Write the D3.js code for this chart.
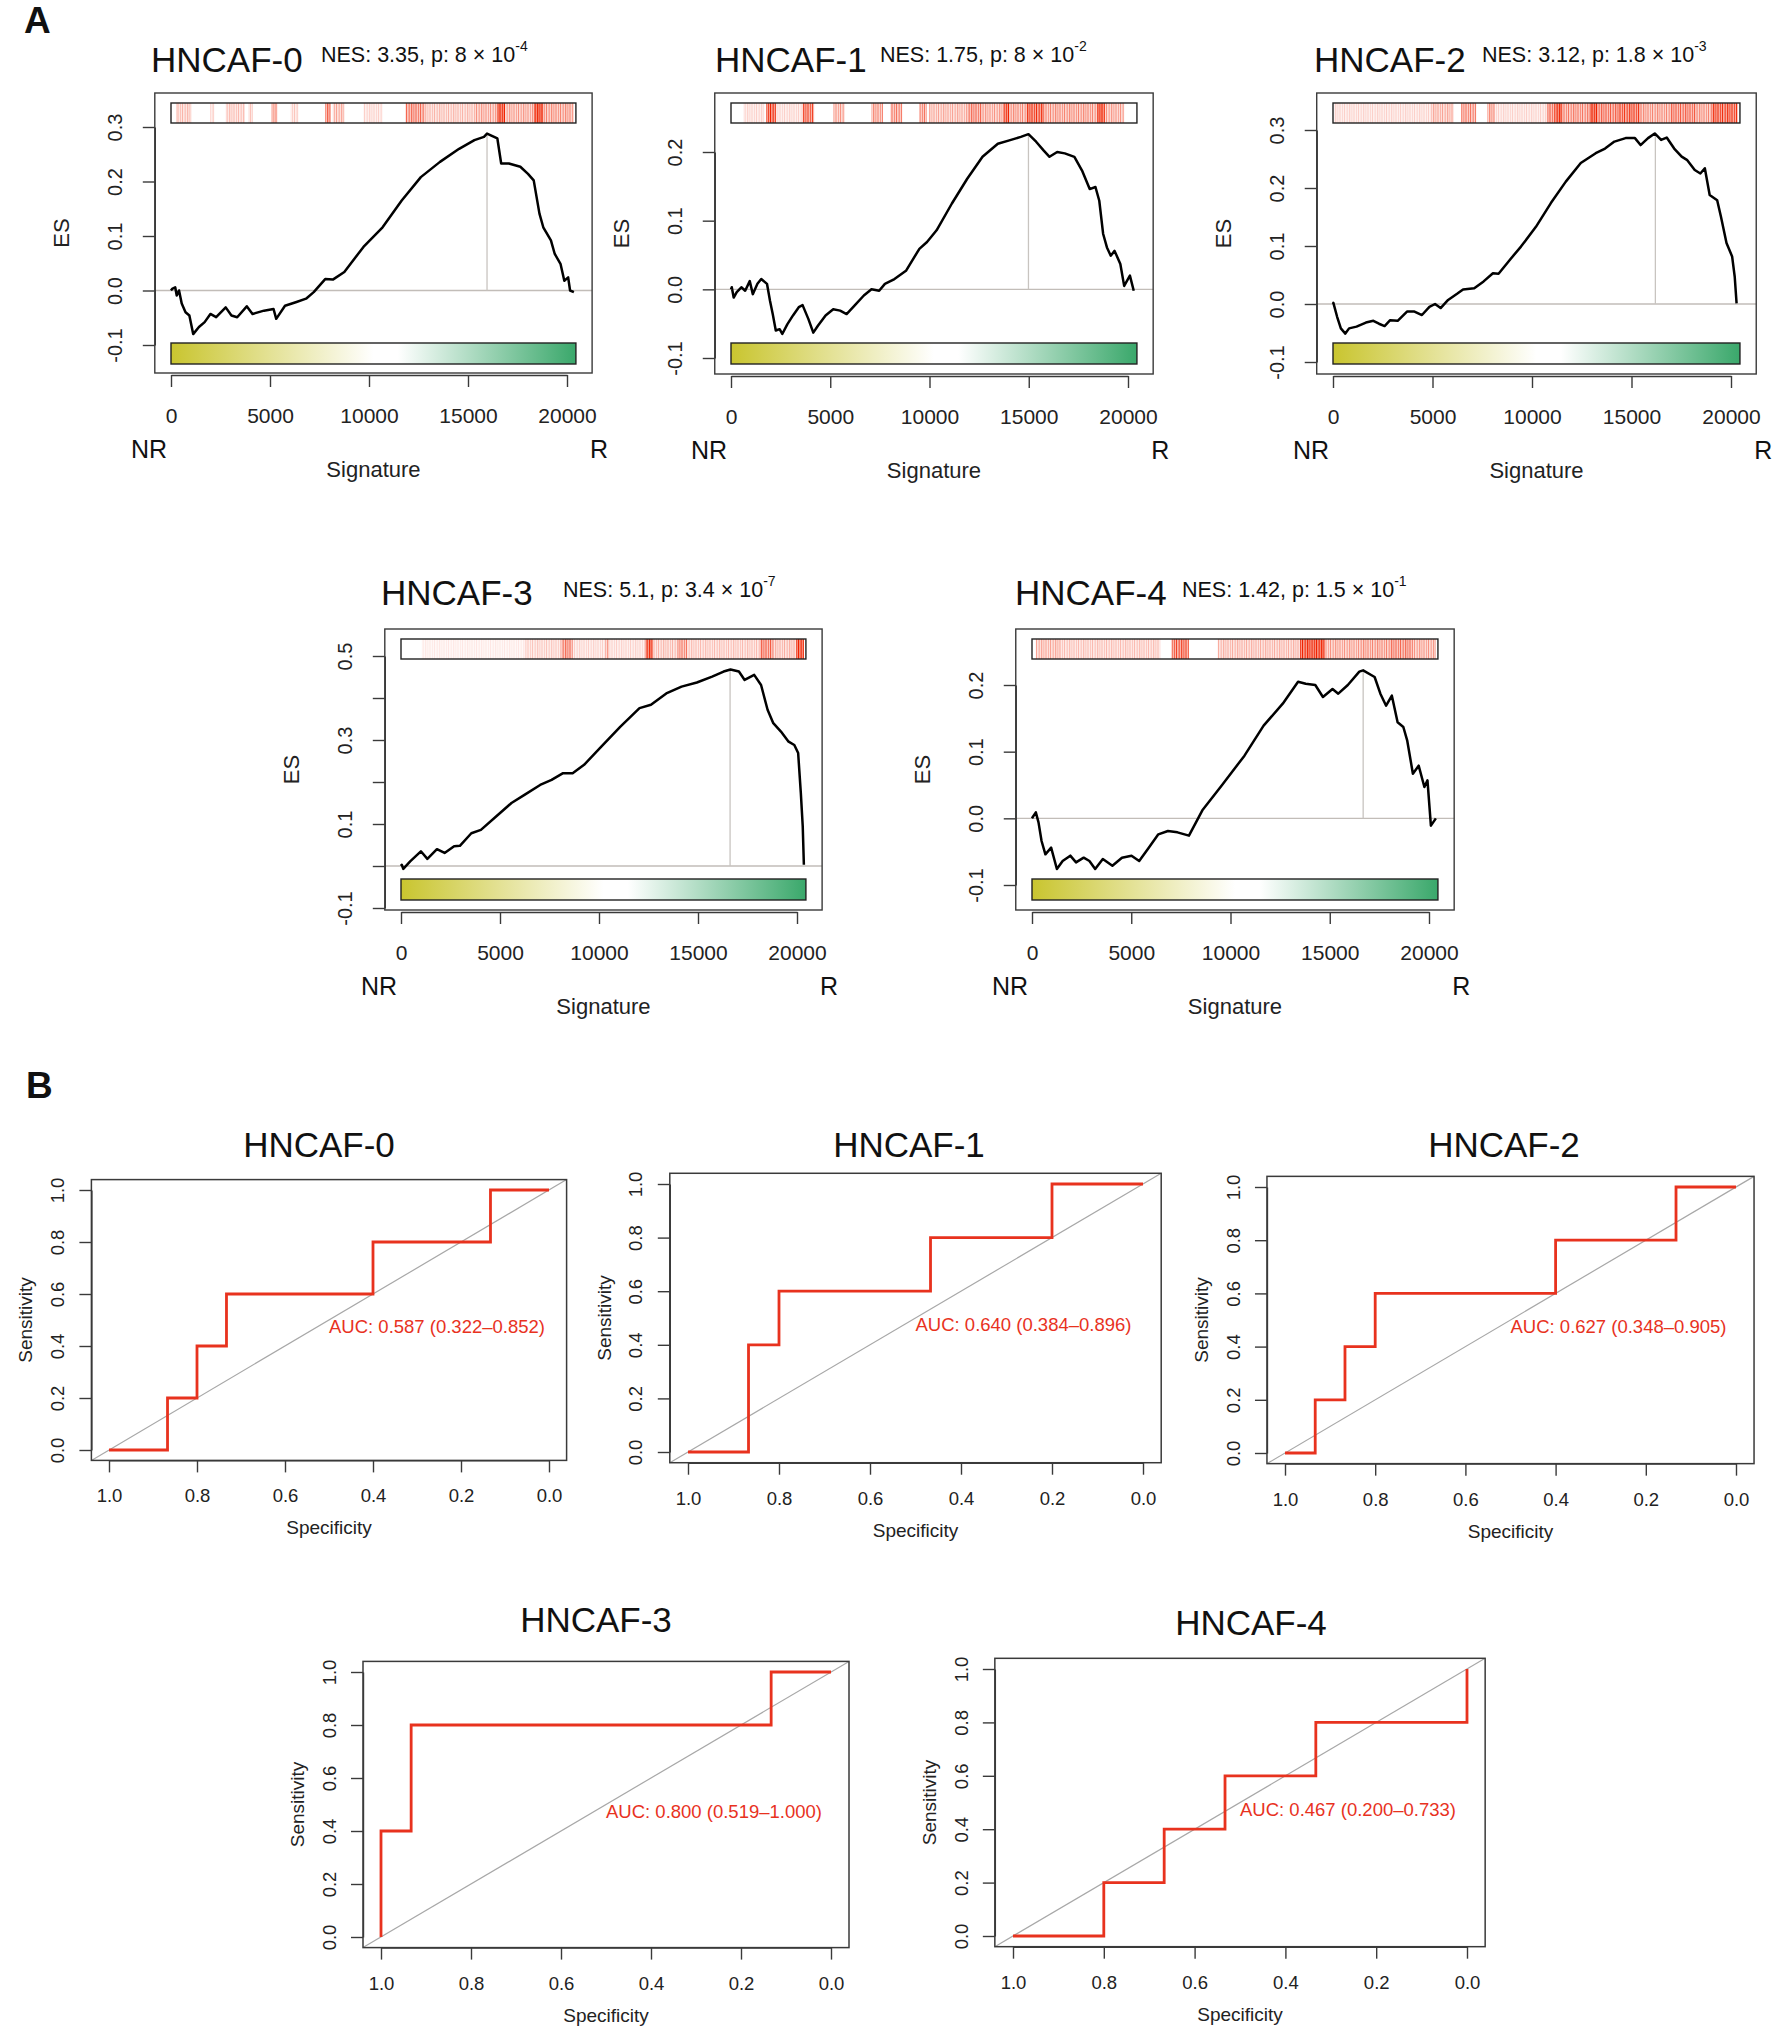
<!DOCTYPE html>
<html><head><meta charset="utf-8">
<script src="https://cdn.jsdelivr.net/npm/d3@7"></script>
<style>
body{margin:0;background:#fff}
svg{display:block}
text{font-family:"Liberation Sans",Arial,Helvetica,sans-serif}
</style>
</head><body>
<svg id="chart" width="1785" height="2040"></svg>
<script>
// ---------------- DATA ----------------
const panelNames = ["HNCAF-0","HNCAF-1","HNCAF-2","HNCAF-3","HNCAF-4"];
const nesValues = ["3.35","1.75","3.12","5.1","1.42"];
const pMantissa = ["8","8","1.8","3.4","1.5"];
const pExponent = ["-4","-2","-3","-7","-1"];
const nGenes = 20450;
const gseaXTicks = [0,5000,10000,15000,20000];
const gseaYTicks = [
  [-0.1,0,0.1,0.2,0.3],
  [-0.1,0,0.1,0.2],
  [-0.1,0,0.1,0.2,0.3],
  [-0.1,0,0.1,0.2,0.3,0.4,0.5],
  [-0.1,0,0.1,0.2]
];
const gseaYLabelled = [
  [-0.1,0,0.1,0.2,0.3],
  [-0.1,0,0.1,0.2],
  [-0.1,0,0.1,0.2,0.3],
  [-0.1,0.1,0.3,0.5],
  [-0.1,0,0.1,0.2]
];
// running enrichment score: [rank, ES]
const es0 = [[0,0],[58,0.003],[213,0.006],[290,-0.009],[406,0],[541,-0.024],[734,-0.04],[928,-0.046],[1121,-0.08],[1411,-0.067],[1700,-0.058],[1990,-0.043],[2280,-0.049],[2763,-0.031],[3053,-0.046],[3343,-0.049],[3826,-0.029],[4116,-0.043],[4696,-0.037],[5179,-0.034],[5314,-0.052],[5758,-0.028],[6338,-0.021],[6821,-0.015],[7208,-0.003],[7787,0.021],[8174,0.02],[8754,0.034],[9720,0.08],[10686,0.116],[11652,0.165],[12618,0.208],[13585,0.236],[14551,0.26],[15324,0.276],[15807,0.282],[15961,0.288],[16483,0.279],[16676,0.233],[17063,0.233],[17643,0.227],[18029,0.214],[18319,0.202],[18609,0.141],[18802,0.116],[19188,0.092],[19382,0.067],[19671,0.049],[19865,0.018],[20058,0.024],[20155,0],[20348,-0.003]];
const es1 = [[0,0],[39,0.003],[135,-0.012],[289,-0.004],[521,0.003],[714,-0.002],[945,0.012],[1099,-0.007],[1331,0.008],[1524,0.015],[1813,0.008],[1967,-0.017],[2102,-0.036],[2256,-0.06],[2449,-0.058],[2584,-0.065],[2835,-0.051],[3124,-0.038],[3414,-0.026],[3606,-0.023],[3896,-0.043],[4146,-0.063],[4378,-0.053],[4764,-0.038],[5149,-0.029],[5497,-0.031],[5824,-0.036],[6210,-0.024],[6692,-0.009],[7078,0],[7464,-0.002],[7753,0.008],[8235,0.015],[8814,0.027],[9489,0.059],[9875,0.069],[10357,0.086],[11128,0.125],[11900,0.161],[12671,0.193],[13442,0.212],[14021,0.217],[14600,0.222],[14985,0.226],[15371,0.215],[15757,0.202],[16046,0.193],[16432,0.2],[16817,0.198],[17299,0.193],[17685,0.173],[18071,0.146],[18360,0.149],[18553,0.129],[18746,0.081],[18939,0.061],[19131,0.049],[19324,0.056],[19614,0.037],[19807,0.005],[20096,0.02],[20289,-0.002]];
const es2 = [[0,0],[19,0.002],[207,-0.022],[394,-0.042],[620,-0.051],[808,-0.042],[1183,-0.039],[1653,-0.032],[2028,-0.029],[2310,-0.034],[2592,-0.038],[2873,-0.028],[3249,-0.029],[3718,-0.013],[4094,-0.013],[4469,-0.019],[4845,-0.005],[5127,0],[5408,-0.007],[5784,0.007],[6253,0.018],[6535,0.025],[7098,0.027],[7568,0.039],[8037,0.053],[8319,0.052],[8882,0.076],[9446,0.099],[10197,0.133],[10948,0.174],[11699,0.211],[12451,0.243],[13202,0.26],[13671,0.268],[14141,0.28],[14704,0.286],[15173,0.286],[15455,0.274],[15831,0.286],[16169,0.294],[16488,0.283],[16770,0.287],[17145,0.268],[17521,0.254],[17803,0.248],[18178,0.231],[18460,0.225],[18685,0.234],[18929,0.188],[19305,0.179],[19493,0.151],[19774,0.105],[20056,0.082],[20187,0.047],[20281,0.001]];
const es3 = [[0,0],[39,0.003],[116,-0.007],[463,0.011],[1004,0.035],[1332,0.017],[1815,0.04],[2201,0.031],[2683,0.047],[2973,0.048],[3552,0.078],[4035,0.086],[4903,0.122],[5579,0.15],[6255,0.17],[7027,0.193],[7606,0.205],[8185,0.221],[8668,0.221],[9247,0.241],[10116,0.284],[11081,0.332],[12046,0.376],[12625,0.384],[13398,0.411],[14170,0.427],[14942,0.437],[15714,0.451],[16293,0.463],[16641,0.468],[17066,0.463],[17355,0.443],[17838,0.455],[18185,0.431],[18514,0.372],[18803,0.34],[19189,0.32],[19575,0.296],[19865,0.288],[20058,0.269],[20193,0.174],[20290,0.094],[20347,0.003]];
const es4 = [[0,0],[39,0.002],[193,0.009],[328,-0.006],[482,-0.034],[675,-0.054],[964,-0.044],[1254,-0.076],[1543,-0.064],[1929,-0.056],[2218,-0.066],[2604,-0.059],[2893,-0.064],[3182,-0.076],[3568,-0.061],[4050,-0.071],[4532,-0.059],[5014,-0.056],[5400,-0.064],[5882,-0.044],[6364,-0.024],[6847,-0.019],[7329,-0.021],[7907,-0.026],[8582,0.012],[9547,0.049],[10704,0.094],[11668,0.139],[12632,0.172],[13404,0.205],[13789,0.202],[14271,0.2],[14657,0.182],[15139,0.194],[15429,0.187],[15911,0.2],[16490,0.22],[16682,0.222],[17261,0.212],[17550,0.187],[17839,0.169],[18129,0.184],[18418,0.144],[18707,0.137],[18900,0.117],[19189,0.067],[19479,0.079],[19768,0.047],[19923,0.057],[20096,-0.011],[20346,0]];
const esCurves = [es0, es1, es2, es3, es4];
const peakRanks = [15961, 14985, 16200, 16620, 16683];
// gene-set hit density along the ranking: [fromRank, toRank, intensity]
const hits0 = [[251,1024,0.2],[1990,2184,0.15],[2763,3730,0.18],[3923,4116,0.2],[5082,5372,0.35],[6048,6435,0.15],[7788,8077,0.5],[8174,8754,0.25],[9720,10686,0.12],[11845,12812,0.45],[12812,15324,0.2],[15324,16483,0.3],[16483,16870,0.95],[16870,18319,0.3],[18319,18802,0.95],[18802,20348,0.35]];
const hits1 = [[617,1678,0.12],[1774,2256,0.8],[2256,3606,0.12],[3606,4185,0.6],[5149,5728,0.3],[7078,7656,0.35],[8042,8621,0.4],[9489,9874,0.4],[9971,11900,0.25],[11900,12671,0.45],[12671,13732,0.3],[13732,14021,0.85],[14021,14889,0.35],[14889,15757,0.7],[15757,18457,0.35],[18457,18842,0.9],[18842,19807,0.3]];
const hits2 = [[56,4939,0.12],[4939,6066,0.25],[6441,7192,0.4],[7756,8131,0.35],[8131,10760,0.12],[10760,11136,0.5],[11136,11512,0.9],[11512,12920,0.4],[12920,13296,0.95],[13296,14328,0.5],[14328,15455,0.65],[15455,16957,0.35],[16957,18272,0.5],[18272,19023,0.35],[19023,20338,0.7]];
const hits3 = [[1042,6255,0.06],[6255,8089,0.15],[8089,8668,0.45],[8668,10309,0.12],[10309,10502,0.3],[10502,12336,0.12],[12336,12722,0.85],[12722,13977,0.2],[13977,14459,0.4],[14459,18127,0.18],[18127,18803,0.5],[18803,19961,0.22],[19961,20347,0.95]];
const hits4 = [[193,1446,0.25],[1446,6461,0.18],[7039,7907,0.6],[9354,13500,0.22],[13500,14079,0.85],[14079,14754,0.95],[14754,16490,0.3],[16490,18032,0.35],[18032,19189,0.45],[19189,20346,0.3]];
const hitSets = [hits0, hits1, hits2, hits3, hits4];

// ROC curves: [specificity, sensitivity]
const roc0 = [[1,0],[0.867,0],[0.867,0.2],[0.8,0.2],[0.8,0.4],[0.733,0.4],[0.733,0.6],[0.4,0.6],[0.4,0.8],[0.133,0.8],[0.133,1],[0,1]];
const roc1 = [[1,0],[0.867,0],[0.867,0.4],[0.8,0.4],[0.8,0.6],[0.467,0.6],[0.467,0.8],[0.2,0.8],[0.2,1],[0,1]];
const roc2 = [[1,0],[0.933,0],[0.933,0.2],[0.867,0.2],[0.867,0.4],[0.8,0.4],[0.8,0.6],[0.4,0.6],[0.4,0.8],[0.133,0.8],[0.133,1],[0,1]];
const roc3 = [[1,0],[1,0.4],[0.933,0.4],[0.933,0.8],[0.133,0.8],[0.133,1],[0,1]];
const roc4 = [[1,0],[0.8,0],[0.8,0.2],[0.667,0.2],[0.667,0.4],[0.533,0.4],[0.533,0.6],[0.333,0.6],[0.333,0.8],[0,0.8],[0,1]];
const rocCurves = [roc0, roc1, roc2, roc3, roc4];
const aucLabels = ["AUC: 0.587 (0.322\u20130.852)","AUC: 0.640 (0.384\u20130.896)","AUC: 0.627 (0.348\u20130.905)","AUC: 0.800 (0.519\u20131.000)","AUC: 0.467 (0.200\u20130.733)"];
const rocTicks = [1,0.8,0.6,0.4,0.2,0];
const rocYTicks = [0,0.2,0.4,0.6,0.8,1];

// ---------------- LAYOUT ----------------
const gseaLayout = [
  {x0:171, x1:567, yLo:345, yHi:127, yHiVal:0.3, top:93, bottom:373, bar1:103, bar2:343, titleX:151, titleY:72, nesX:321, nesY:62},
  {x0:731, x1:1128, yLo:358, yHi:152, yHiVal:0.2, top:93, bottom:374, bar1:103, bar2:343, titleX:715, titleY:72, nesX:880, nesY:62},
  {x0:1333, x1:1731, yLo:362, yHi:130, yHiVal:0.3, top:93, bottom:374, bar1:103, bar2:343, titleX:1314, titleY:72, nesX:1482, nesY:62},
  {x0:401, x1:797, yLo:908, yHi:656, yHiVal:0.5, top:629, bottom:910, bar1:639, bar2:879, titleX:381, titleY:605, nesX:563, nesY:597},
  {x0:1032, x1:1429, yLo:885, yHi:685, yHiVal:0.2, top:629, bottom:910, bar1:639, bar2:879, titleX:1015, titleY:605, nesX:1182, nesY:597}
];
const rocLayout = [
  {sx1:109, sx0:549, sy0:1450, sy1:1190, titleX:319, titleY:1157},
  {sx1:688, sx0:1143, sy0:1452, sy1:1184, titleX:909, titleY:1157},
  {sx1:1285, sx0:1736, sy0:1453, sy1:1187, titleX:1504, titleY:1157},
  {sx1:381, sx0:831, sy0:1937, sy1:1672, titleX:596, titleY:1632},
  {sx1:1013, sx0:1467, sy0:1936, sy1:1669, titleX:1251, titleY:1635}
];

const FONT = '"Liberation Sans", Arial, Helvetica, sans-serif';
const AX = "#3a3a3a";
const svg = d3.select("#chart");
const defs = svg.append("defs");
const grad = defs.append("linearGradient").attr("id","sigGrad");
[["0%","#c9c52f"],["50%","#ffffff"],["56%","#ffffff"],["100%","#3aa86b"]].forEach(s=>grad.append("stop").attr("offset",s[0]).attr("stop-color",s[1]));
const pat = defs.append("pattern").attr("id","barcode").attr("patternUnits","userSpaceOnUse").attr("width",14).attr("height",40);
[[0,1,1],[2.5,1.5,0.6],[5,1,0.9],[6.5,2,0.5],[9.5,1,1],[12,1,0.7]].forEach(p=>pat.append("rect").attr("x",p[0]).attr("y",0).attr("width",p[1]).attr("height",40).attr("fill","#f02200").attr("fill-opacity",p[2]));

svg.append("text").attr("x",24).attr("y",33).attr("font-size",37).attr("font-weight","bold").attr("fill","#111").text("A");
svg.append("text").attr("x",26).attr("y",1098).attr("font-size",37).attr("font-weight","bold").attr("fill","#111").text("B");

function styleAxis(ga){
  ga.attr("font-family",FONT).attr("font-size",null);
  ga.select(".domain").attr("stroke",AX).attr("stroke-width",1.4);
  ga.selectAll(".tick line").attr("stroke",AX).attr("stroke-width",1.4);
  ga.selectAll(".tick text").attr("fill","#222");
}

function drawGsea(i){
  const L = gseaLayout[i];
  const g = svg.append("g");
  const x = d3.scaleLinear().domain([0,20000]).range([L.x0, L.x1]);
  const y = d3.scaleLinear().domain([-0.1, L.yHiVal]).range([L.yLo, L.yHi]);
  const left = x(-0.04*nGenes), right = x(1.04*nGenes);
  const curve = esCurves[i];
  const peakES = d3.max(curve, d=>d[1]);

  g.append("line").attr("x1",left).attr("x2",right).attr("y1",y(0)).attr("y2",y(0)).attr("stroke","#c2bdb8").attr("stroke-width",1.3);
  g.append("line").attr("x1",x(peakRanks[i])).attr("x2",x(peakRanks[i])).attr("y1",y(0)).attr("y2",y(peakES)).attr("stroke","#c8c4c0").attr("stroke-width",1.3);

  const bw = x(nGenes)-x(0);
  g.append("rect").attr("x",x(0)).attr("y",L.bar1).attr("width",bw).attr("height",20).attr("fill","#fff");
  g.selectAll(".hs").data(hitSets[i]).join("rect").attr("x",d=>x(d[0])).attr("y",L.bar1).attr("width",d=>x(d[1])-x(d[0])).attr("height",20).attr("fill","#f02200").attr("fill-opacity",d=>d[2]*0.55);
  g.selectAll(".hp").data(hitSets[i]).join("rect").attr("x",d=>x(d[0])).attr("y",L.bar1).attr("width",d=>x(d[1])-x(d[0])).attr("height",20).attr("fill","url(#barcode)").attr("opacity",d=>Math.min(1,d[2]*1.3));
  g.append("rect").attr("x",x(0)).attr("y",L.bar1).attr("width",bw).attr("height",20).attr("fill","none").attr("stroke","#222").attr("stroke-width",1.4);

  g.append("rect").attr("x",x(0)).attr("y",L.bar2).attr("width",bw).attr("height",21).attr("fill","url(#sigGrad)").attr("stroke","#222").attr("stroke-width",1.4);

  g.append("path").datum(curve).attr("d",d3.line().x(d=>x(d[0])).y(d=>y(d[1]))).attr("fill","none").attr("stroke","#000").attr("stroke-width",2.5).attr("stroke-linejoin","round");

  g.append("rect").attr("x",left).attr("y",L.top).attr("width",right-left).attr("height",L.bottom-L.top).attr("fill","none").attr("stroke",AX).attr("stroke-width",1.4);

  const lab = gseaYLabelled[i];
  const ya = g.append("g").attr("transform",`translate(${left},0)`).call(d3.axisLeft(y).tickValues(gseaYTicks[i]).tickSize(12).tickSizeOuter(0).tickFormat(d=>lab.some(v=>Math.abs(v-d)<1e-9)?d.toFixed(1):""));
  styleAxis(ya);
  ya.selectAll(".tick text").attr("x",0).attr("dy","0.36em").attr("text-anchor","middle").attr("transform","translate(-40,0) rotate(-90)").attr("font-size",20);
  const xa = g.append("g").attr("transform",`translate(0,${L.bottom+2})`).call(d3.axisBottom(x).tickValues(gseaXTicks).tickSize(12).tickSizeOuter(0).tickFormat(d=>String(d)));
  styleAxis(xa);
  xa.selectAll(".tick text").attr("y",48).attr("dy",null).attr("font-size",21);

  g.append("text").attr("transform",`translate(${left-94},${(L.top+L.bottom)/2}) rotate(-90)`).attr("text-anchor","middle").attr("dy","0.36em").attr("font-size",22).attr("fill","#222").text("ES");
  g.append("text").attr("x",x(0)-22).attr("y",L.bottom+85).attr("text-anchor","middle").attr("font-size",25).attr("fill","#111").text("NR");
  g.append("text").attr("x",right+7).attr("y",L.bottom+85).attr("text-anchor","middle").attr("font-size",25).attr("fill","#111").text("R");
  g.append("text").attr("x",(left+right)/2).attr("y",L.bottom+104).attr("text-anchor","middle").attr("font-size",22).attr("fill","#222").text("Signature");
  g.append("text").attr("x",L.titleX).attr("y",L.titleY).attr("font-size",35).attr("fill","#111").text(panelNames[i]);
  const t = g.append("text").attr("x",L.nesX).attr("y",L.nesY).attr("font-size",21.5).attr("fill","#111");
  t.append("tspan").text(`NES: ${nesValues[i]}, p: ${pMantissa[i]} \u00d7 10`);
  t.append("tspan").attr("dy",-11).attr("font-size",14).text(pExponent[i]);
}

function drawRoc(i){
  const L = rocLayout[i];
  const g = svg.append("g");
  const x = d3.scaleLinear().domain([1,0]).range([L.sx1, L.sx0]);
  const y = d3.scaleLinear().domain([0,1]).range([L.sy0, L.sy1]);
  const left = x(1.04), right = x(-0.04), top = y(1.04), bottom = y(-0.04);

  g.append("line").attr("x1",left).attr("y1",bottom).attr("x2",right).attr("y2",top).attr("stroke","#a8a8a8").attr("stroke-width",1.2);
  g.append("path").datum(rocCurves[i]).attr("d",d3.line().x(d=>x(d[0])).y(d=>y(d[1]))).attr("fill","none").attr("stroke","#e8321e").attr("stroke-width",2.8);
  g.append("rect").attr("x",left).attr("y",top).attr("width",right-left).attr("height",bottom-top).attr("fill","none").attr("stroke",AX).attr("stroke-width",1.5);

  const xa = g.append("g").attr("transform",`translate(0,${bottom})`).call(d3.axisBottom(x).tickValues(rocTicks).tickSize(12).tickSizeOuter(0).tickFormat(d=>d.toFixed(1)));
  styleAxis(xa);
  xa.selectAll(".tick text").attr("y",42).attr("dy",null).attr("font-size",18.5);
  const ya = g.append("g").attr("transform",`translate(${left},0)`).call(d3.axisLeft(y).tickValues(rocYTicks).tickSize(12).tickSizeOuter(0).tickFormat(d=>d.toFixed(1)));
  styleAxis(ya);
  ya.selectAll(".tick text").attr("x",0).attr("dy","0.36em").attr("text-anchor","middle").attr("transform","translate(-34,0) rotate(-90)").attr("font-size",18.5);

  g.append("text").attr("x",(left+right)/2).attr("y",bottom+74).attr("text-anchor","middle").attr("font-size",19).attr("fill","#222").text("Specificity");
  g.append("text").attr("transform",`translate(${left-66},${(top+bottom)/2}) rotate(-90)`).attr("text-anchor","middle").attr("dy","0.36em").attr("font-size",19).attr("fill","#222").text("Sensitivity");
  g.append("text").attr("x",L.titleX).attr("y",L.titleY).attr("text-anchor","middle").attr("font-size",35).attr("fill","#111").text(panelNames[i]);
  g.append("text").attr("x",x(0.5)).attr("y",y(0.5)+13).attr("font-size",18.5).attr("fill","#e8321e").text(aucLabels[i]);
}

for (let i=0;i<5;i++){ drawGsea(i); drawRoc(i); }
</script>
</body></html>
